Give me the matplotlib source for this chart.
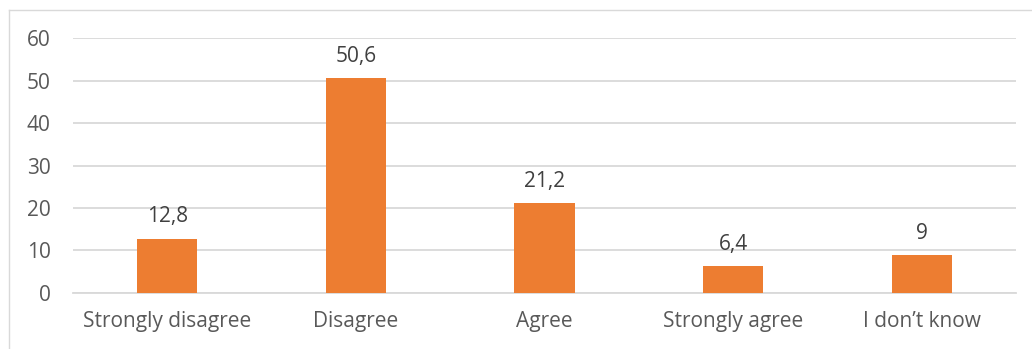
import matplotlib
matplotlib.use('Agg')

import numpy as np
from matplotlib import pyplot as plt
from matplotlib.lines import Line2D

categories = ['Strongly disagree', 'Disagree', 'Agree', 'Strongly agree', 'I don\u2019t know']
values = [12.8, 50.6, 21.2, 6.4, 9]
value_labels = ['12,8', '50,6', '21,2', '6,4', '9']

plt.rcParams['font.family'] = ['Open Sans', 'DejaVu Sans']

fig = plt.figure(figsize=(10.32, 3.49), dpi=100)
ax = fig.add_axes([0.0707, 0.1605, 0.9138, 0.7305])

X = np.arange(len(values))
ax.bar(X, values, width=0.32, color='#ED7D31', zorder=3)
for x, y, s in zip(X, values, value_labels):
    ax.annotate(s, (x, y), xytext=(0, 8), textcoords='offset points',
                ha='center', va='bottom', fontsize=15, color='#404040')

ax.set_xlim(-0.5, len(values) - 0.5)
ax.set_ylim(0, 60)
ax.set_yticks(np.arange(0, 61, 10))
ax.set_xticks(X)
ax.set_xticklabels(categories)
ax.yaxis.grid(True, color='#D9D9D9', linewidth=1.3, zorder=0)
ax.tick_params(axis='both', length=0, labelsize=15, labelcolor='#595959')
ax.tick_params(axis='y', pad=16)
ax.tick_params(axis='x', pad=13)
for side in ['top', 'right', 'left']:
    ax.spines[side].set_visible(False)
ax.spines['bottom'].set_color('#D9D9D9')
ax.spines['bottom'].set_linewidth(1.3)

# chart frame (left and top edges)
fig.add_artist(Line2D([8.5 / 1032, 8.5 / 1032], [0, 1 - 9.5 / 349],
                      transform=fig.transFigure, color='#D9D9D9', linewidth=1))
fig.add_artist(Line2D([8.5 / 1032, 1], [1 - 9.5 / 349, 1 - 9.5 / 349],
                      transform=fig.transFigure, color='#D9D9D9', linewidth=1))

fig.savefig('out.png', dpi=100)
